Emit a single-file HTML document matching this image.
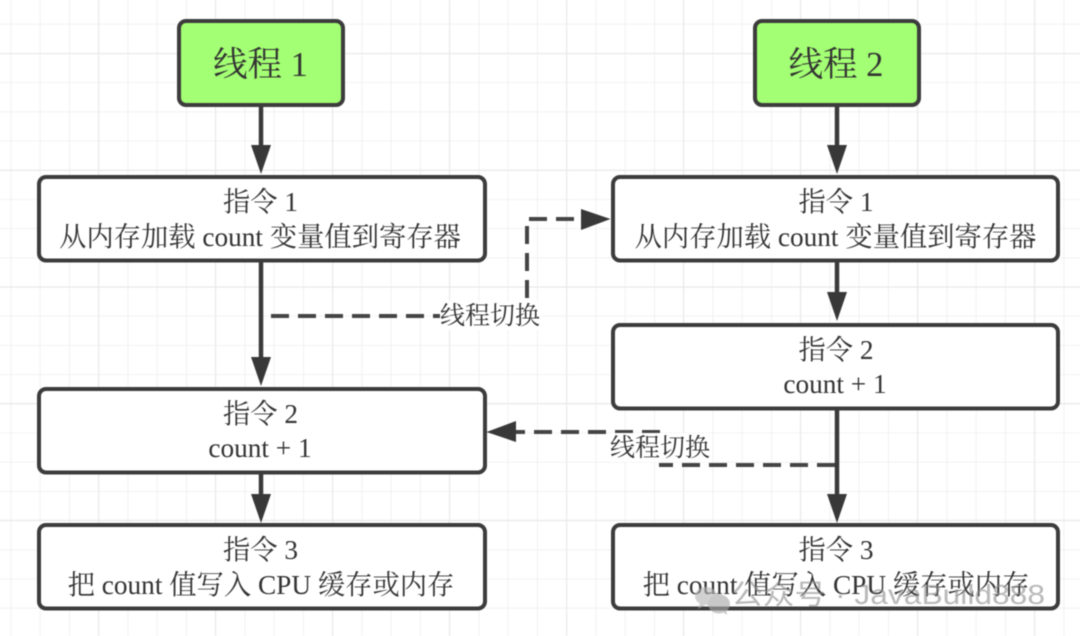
<!DOCTYPE html>
<html lang="zh"><head><meta charset="utf-8"><title>线程切换</title>
<style>
html,body{margin:0;padding:0;background:#fff}
svg{display:block;filter:blur(.6px)}
text{font-family:"Liberation Serif","Noto Serif CJK SC",serif;fill:#333;text-anchor:middle}
.b{fill:#fff;stroke:#3c3c3c;stroke-width:4}
.g{fill:#a3ff73;stroke:#3c3c3c;stroke-width:4}
.l{stroke:#3a3a3a;stroke-width:4.5;fill:none}
.d{stroke:#444;stroke-width:4;fill:none;stroke-dasharray:18 9}
.h{fill:#383838}
.m{font-size:27.3px}
.e{font-size:25px}
</style></head><body>
<svg xmlns="http://www.w3.org/2000/svg" width="1080" height="636" viewBox="0 0 1080 636">
<defs>
<pattern id="minor" width="29.25" height="29.2" patternUnits="userSpaceOnUse" x="10.5" y="23.8">
<path d="M0 0V29.2M0 0H29.25" stroke="#eeeeee" stroke-width="1.6" fill="none"/>
</pattern>
<pattern id="major" width="117" height="116.7" patternUnits="userSpaceOnUse" x="98" y="53">
<path d="M0 0V116.7M0 0H117" stroke="#e8e8e8" stroke-width="2.2" fill="none"/>
</pattern>
</defs>
<rect width="1080" height="636" fill="#fff"/>
<rect width="1080" height="636" fill="url(#minor)"/>
<rect width="1080" height="636" fill="url(#major)"/>

<!-- solid connectors -->
<path class="l" d="M261 106V148M261 261V360M261 473V500M837 106V148M837 261V296M837 409V496"/>
<path class="h" d="M251 145H271L261 174ZM251 357H271L261 386ZM251 494H271L261 523ZM827 145H847L837 174ZM827 292H847L837 321ZM827 494H847L837 523Z"/>

<!-- dashed connectors -->
<path class="d" d="M271 316H440"/>
<path class="d" d="M527 298V219H582"/>
<path class="d" d="M835 465H659"/>
<path class="d" d="M660 432H516"/>

<!-- boxes -->
<rect class="g" x="179" y="21" width="164" height="84" rx="7"/>
<rect class="g" x="755" y="21" width="164" height="84" rx="7"/>
<rect class="b" x="39" y="177" width="446" height="83.5" rx="7"/>
<rect class="b" x="39" y="389" width="446" height="83.5" rx="7"/>
<rect class="b" x="39" y="525" width="446" height="83.5" rx="7"/>
<rect class="b" x="613" y="177" width="445" height="83.5" rx="7"/>
<rect class="b" x="613" y="325" width="445" height="83.5" rx="7"/>
<rect class="b" x="613" y="525" width="445" height="83.5" rx="7"/>

<!-- dashed arrowheads, above box borders -->
<path class="h" d="M581 209L610.5 219L581 230Z"/>
<path class="h" d="M516 421L486.5 432L516 442Z"/>

<!-- box text -->
<text x="260.5" y="76" font-size="34.5">线程 1</text>
<text x="836" y="76" font-size="34.5">线程 2</text>
<text class="m" x="260.5" y="211">指令 1</text>
<text class="m" x="260" y="246">从内存加载 count 变量值到寄存器</text>
<text class="m" x="260.5" y="423">指令 2</text>
<text class="m" x="260" y="457">count + 1</text>
<text class="m" x="260.5" y="559">指令 3</text>
<text class="m" x="261" y="594">把 count 值写入 CPU 缓存或内存</text>
<text class="m" x="836" y="211">指令 1</text>
<text class="m" x="835.5" y="246">从内存加载 count 变量值到寄存器</text>
<text class="m" x="836" y="359">指令 2</text>
<text class="m" x="835" y="393">count + 1</text>
<text class="m" x="836" y="559">指令 3</text>
<text class="m" x="836" y="594">把 count 值写入 CPU 缓存或内存</text>

<!-- edge labels -->
<rect x="440" y="301" width="100" height="29" fill="#fff"/>
<text class="e" x="490" y="324">线程切换</text>
<rect x="609" y="433" width="102" height="29" fill="#fff"/>
<text class="e" x="660" y="456">线程切换</text>

<!-- watermark -->
<g opacity=".62">
<ellipse cx="706" cy="596" rx="11" ry="9" fill="#b5b5b5"/>
<path d="M700 603l-2 6 7-4Z" fill="#b5b5b5"/>
<ellipse cx="719" cy="604" rx="11" ry="9.5" fill="#a8a8a8"/>
<path d="M722 611l5 4-1-7Z" fill="#a8a8a8"/>
</g>
<text x="888" y="604" font-size="28" textLength="314" lengthAdjust="spacingAndGlyphs" style="font-family:'Liberation Sans','Noto Sans CJK SC',sans-serif;fill:#8a8a8a;fill-opacity:.6">公众号 · JavaBuild888</text>
</svg>
</body></html>
